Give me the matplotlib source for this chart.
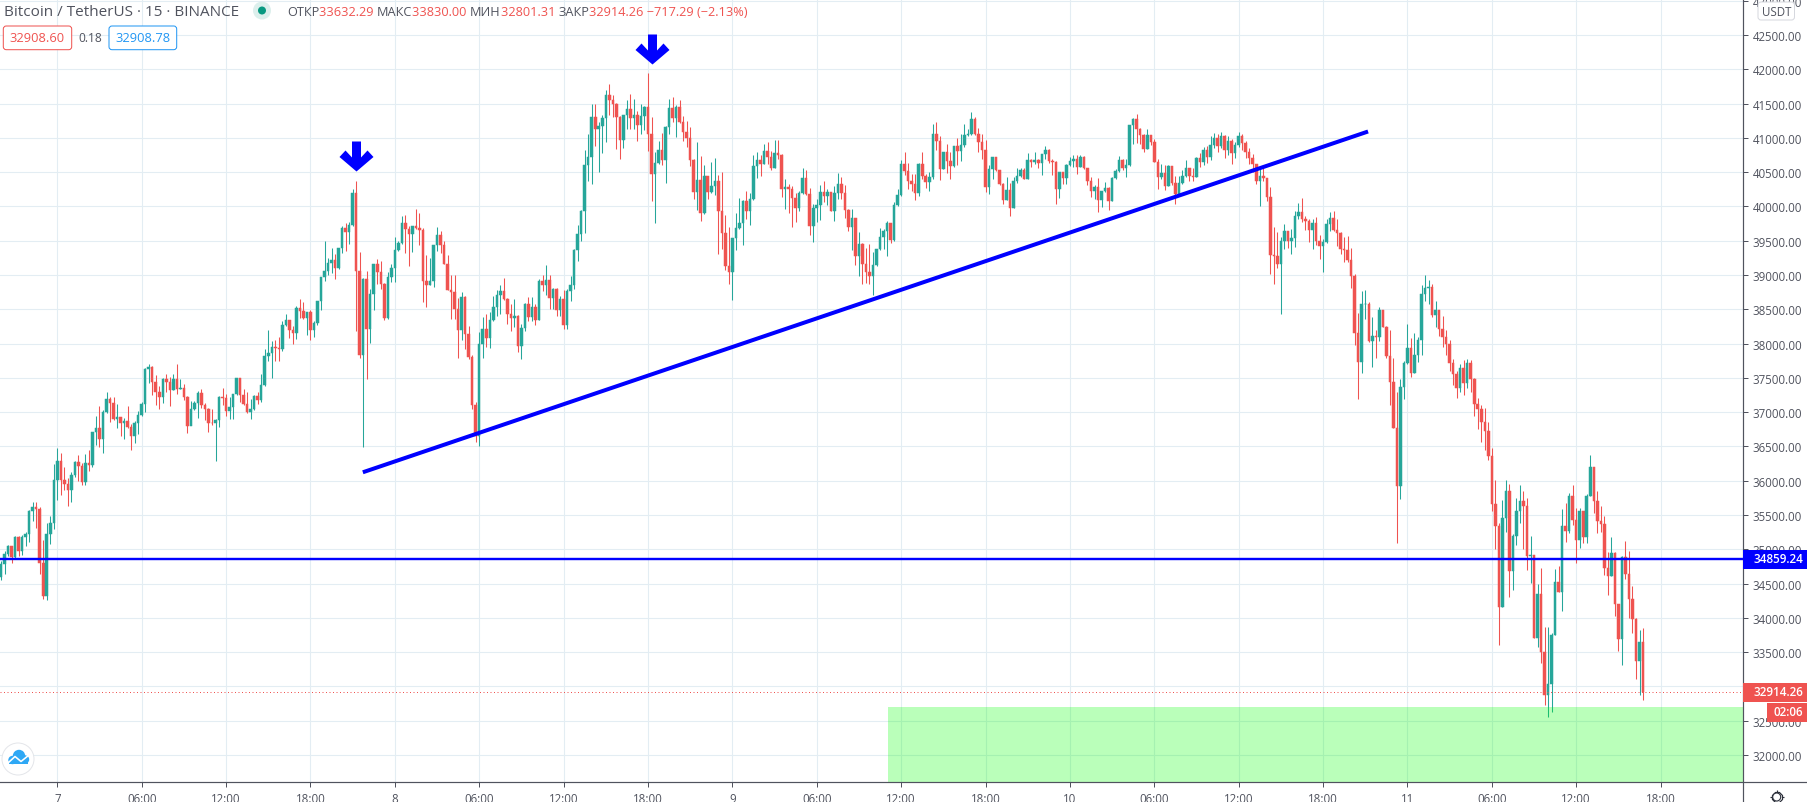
import numpy as np
import matplotlib
matplotlib.use("Agg")
import matplotlib.pyplot as plt
from matplotlib.patches import FancyBboxPatch, Rectangle, Circle, Polygon
from matplotlib.path import Path

plt.rcParams['font.family'] = ['Open Sans', 'DejaVu Sans']

W, H = 1807, 803
PX = 0.72
RED = '#ef5350'
GREEN = '#26a69a'
GRID = '#e3edf3'
AXC = '#50535e'
BLUE = '#0000ff'

# candle data: 15-minute candles, index 0 is the start of day 7
first_index = -16
first_open = 34600
closes = [
 34785,34930,35047,34886,35178,34975,35178,35222,35557,35615,
 35590,34800,34318,35222,35380,36010,36285,36010,35950,35865,
 36080,36270,36215,35980,36255,36230,36705,36763,36608,36997,
 37191,37133,36900,36928,36841,36870,36783,36651,36841,36958,
 37118,37628,37653,37439,37293,37220,37487,37439,37322,37483,
 37337,37351,37220,36797,37045,37133,37278,37104,37045,36841,
 36835,36885,37220,37205,37016,37075,37264,37497,37249,37118,
 37001,37045,37235,37176,37395,37818,37862,37949,37935,37920,
 38270,38343,38197,38153,38518,38474,38372,38459,38197,38299,
 38620,38970,39057,39174,39218,39101,39393,39684,39626,39728,
 40194,39057,37832,38941,38212,38722,39159,39043,38868,38372,
 38970,39101,39363,39465,39757,39670,39597,39713,39684,39655,
 38911,38853,38911,39436,39582,39436,39159,38780,38746,38503,
 38197,38678,38139,37808,37100,36650,37993,38211,38080,38343,
 38532,38707,38766,38649,38430,38372,38401,37968,38226,38576,
 38387,38532,38343,38911,38853,38926,38664,38795,38488,38649,
 38270,38766,38853,39363,39597,39932,40603,40719,41302,41128,
 41171,41288,41623,41550,41492,41302,40967,41332,41419,41288,
 41332,41186,41317,41448,41055,40471,40632,40821,40675,41157,
 41434,41288,41448,41230,41084,40996,40675,40209,40384,39903,
 40442,40209,40296,40369,39932,39611,39130,39043,39538,39684,
 39757,40078,39932,40107,40588,40675,40617,40807,40719,40559,
 40778,40748,40253,40282,40253,40122,39976,40194,40413,40180,
 39713,39976,40019,40209,40151,40209,39932,40194,40326,40194,
 39947,39699,39825,39281,39451,39159,39047,38979,39145,39378,
 39548,39645,39757,39509,40019,40165,40617,40515,40374,40326,
 40194,40617,40447,40360,40428,41055,40953,40544,40792,40661,
 40588,40880,40807,40894,41040,41055,41273,41055,40938,40821,
 40282,40544,40719,40530,40326,40092,40238,39976,40369,40442,
 40530,40399,40676,40646,40676,40632,40763,40821,40661,40646,
 40253,40500,40413,40603,40661,40690,40573,40719,40559,40369,
 40224,40282,40092,40224,40267,40078,40413,40515,40676,40559,
 40603,41186,41273,41127,41040,40836,41040,40933,40646,40428,
 40486,40296,40588,40340,40180,40340,40442,40559,40442,40430,
 40705,40650,40830,40720,40900,41000,40880,41020,40830,40950,
 40780,40900,41030,40920,40800,40700,40620,40374,40437,40413,
 40136,39290,39276,39159,39495,39640,39495,39538,39859,39917,
 39815,39786,39655,39757,39495,39422,39480,39742,39830,39655,
 39611,39378,39363,39218,38984,38153,37730,38576,38580,38037,
 38109,38095,38488,38241,37818,37439,36768,35923,37366,37716,
 37935,37570,37832,38051,38722,38809,38824,38416,38489,38210,
 38100,37990,37720,37560,37350,37650,37420,37710,37480,37120,
 37040,36860,36720,36355,35655,35334,34153,35451,35844,34678,
 35188,35553,35699,35626,34897,34911,33701,34343,33497,32870,
 33031,33745,34518,34372,35334,35261,35772,35422,35130,35553,
 35174,35772,36194,35699,35407,35363,34722,34605,34940,34197,
 33687,34882,34634,34270,33978,33366,33643,32914.26,
]
highs = [
 34833,34970,35060,35050,35200,35190,35207,35250,35570,35690,
 35690,35615,35135,35380,35485,36240,36475,36400,36200,36040,
 36125,36285,36375,36255,36390,36445,36715,36948,37094,37035,
 37293,37225,37225,37118,36928,36914,37089,36826,36870,37016,
 37147,37643,37701,37677,37541,37380,37497,37555,37512,37555,
 37701,37483,37410,37235,37162,37162,37308,37337,37133,37060,
 37045,36900,37235,37351,37264,37215,37264,37497,37497,37337,
 37293,37190,37249,37293,37555,37920,38197,38037,38051,38095,
 38328,38430,38343,38255,38547,38649,38605,38459,38488,38328,
 38620,38970,39495,39247,39393,39305,39393,39713,39757,39772,
 40253,40369,39334,38955,39057,38795,39159,39232,39203,38882,
 39043,39160,39553,39495,39859,39874,39713,39713,39961,39903,
 39684,39290,39247,39436,39699,39640,39495,39290,38999,38999,
 38659,38746,38693,38255,37830,37150,38168,38386,38430,38459,
 38693,38780,38853,38955,38664,38576,38649,38416,38284,38591,
 38678,38678,38576,38941,38999,39145,38999,38810,38810,38693,
 38780,38795,38984,39378,39728,39947,40821,41054,41492,41492,
 41230,41332,41696,41784,41623,41507,41317,41332,41550,41638,
 41565,41390,41492,41463,41944,41302,40792,40953,41069,41171,
 41565,41594,41477,41550,41317,41244,41157,40690,40938,40734,
 40603,40442,40646,40705,40457,40500,39874,39699,39538,39903,
 40122,40092,40224,40194,40748,40792,40748,40909,40938,40807,
 40967,40967,40763,40399,40326,40296,40194,40224,40559,40530,
 40267,40034,40107,40311,40369,40253,40209,40296,40486,40428,
 40311,39961,39961,39825,39626,39465,39393,39451,39329,39378,
 39684,39670,39786,39757,40063,40253,40676,40792,40632,40471,
 40471,40632,40792,40471,40496,41200,41229,41025,40792,40909,
 40792,40880,40996,41055,41200,41127,41375,41302,41142,41055,
 40967,40603,40719,40719,40530,40340,40428,40340,40428,40559,
 40559,40559,40778,40690,40792,40690,40763,40880,40836,40690,
 40661,40500,40500,40617,40719,40748,40748,40748,40734,40559,
 40428,40311,40413,40224,40355,40282,40428,40544,40734,40690,
 40690,41186,41288,41346,41142,41055,41127,41040,40982,40690,
 40617,40603,40603,40588,40442,40442,40530,40676,40559,40559,
 40719,40780,40870,40880,41020,41070,41060,41080,41040,41020,
 40990,40940,41080,41060,40950,40850,40760,40620,40540,40560,
 40413,40282,39699,39626,39553,39742,39640,39670,39932,40049,
 40122,39860,39815,39815,39844,39582,39520,39815,39917,39932,
 39815,39626,39553,39567,39392,39013,38445,38766,38780,38605,
 38386,38197,38532,38488,38260,38197,37789,37293,37482,37745,
 38284,38080,38153,38095,38853,38999,38926,38868,38620,38489,
 38400,38200,38050,37780,37600,37700,37760,37780,37760,37500,
 37200,37100,37060,36850,36470,36005,35378,35713,36005,35947,
 35218,35742,35932,35844,35742,35188,34911,34488,34722,33862,
 33862,33774,34707,34751,35582,35670,35815,35932,35597,35597,
 35553,35800,36369,36194,35844,35626,35480,34955,35174,34955,
 34197,34897,35115,34970,34459,33993,33818,33847,
]
lows = [
 34556,34640,34905,34800,34880,34905,34915,35050,35110,35410,
 35310,34640,34275,34260,35075,35295,35715,35790,35860,35630,
 35690,36050,35995,35935,35935,36140,36195,36520,36496,36404,
 36987,36850,36890,36768,36650,36608,36768,36447,36550,36680,
 36943,37001,37424,37249,37103,37045,37133,37293,37089,37322,
 37264,37337,37176,36695,36812,37030,36914,37060,36885,36710,
 36812,36287,36788,37103,36948,36900,36900,37250,37147,37103,
 36987,36900,37030,37118,37147,37380,37745,37497,37745,37745,
 37891,38255,38080,37993,38065,38372,38357,38124,38051,38095,
 38270,38488,38911,38999,39028,38941,39086,39320,39349,39451,
 39713,38182,37789,36491,37483,38007,38488,38868,38795,38343,
 38357,38897,38897,39349,39451,39320,39130,39334,39670,39436,
 38605,38532,38853,38824,39349,39320,39159,38780,38357,38357,
 37789,38051,37920,37774,37050,36560,36510,37789,37945,37935,
 38328,38406,38430,38630,38284,38187,38236,37876,37770,38187,
 38328,38328,38270,38343,38766,38707,38503,38503,38401,38401,
 38211,38211,38620,38795,39203,39495,39611,40369,40326,40880,
 40500,40778,40938,41332,41302,40836,40690,40850,41128,41128,
 41128,40953,41055,41113,40807,40078,39757,40617,40603,40340,
 41055,41230,41011,41215,40953,40865,40588,40107,39947,39786,
 39888,40107,40194,40165,39305,39378,39072,38868,38634,39363,
 39670,39436,39815,39728,40092,40413,40442,40617,40617,40530,
 40559,40690,40136,39961,39903,39699,39772,39932,40180,40165,
 39582,39480,39772,39801,40063,40019,39932,39786,40107,40107,
 39830,39640,39368,39145,38989,38868,38882,38868,38707,39125,
 39363,39378,39281,39465,39499,40010,40155,40457,40253,40224,
 40097,40155,40399,40267,40224,40399,40816,40384,40544,40486,
 40399,40573,40603,40661,40865,41030,41040,41040,40787,40690,
 40209,40180,40399,40515,40311,40034,40092,39859,39976,40340,
 40428,40399,40399,40573,40617,40559,40457,40690,40632,40457,
 40034,40117,40326,40326,40588,40573,40471,40573,40544,40311,
 40136,40107,39917,39990,40209,39947,40078,40399,40500,40530,
 40428,40588,40909,40923,40909,40792,40836,40900,40646,40253,
 40399,40238,40296,40311,40034,40180,40326,40428,40369,40369,
 40428,40580,40600,40640,40680,40850,40800,40850,40700,40750,
 40620,40700,40860,40820,40700,40620,40500,40320,40000,40374,
 40078,39013,38868,39101,38430,39378,39393,39305,39407,39815,
 39772,39655,39480,39378,39436,39232,39043,39470,39640,39640,
 39422,39305,39188,39188,38809,37978,37191,37570,38357,38022,
 37657,37790,38037,38241,37790,37103,36768,35091,35733,37191,
 37700,37512,37570,37730,37832,38620,38576,38386,38240,38110,
 37950,37840,37600,37400,37200,37300,37250,37350,37300,36950,
 36750,36560,36450,36296,35553,34999,33599,34153,35247,34299,
 34401,35057,35378,34999,34693,34503,33701,33570,33337,32724,
 32555,32632,33745,34372,34095,35101,35232,35349,34795,35013,
 35086,35086,35772,35524,35232,35247,34620,34328,34605,34022,
 33512,33308,34561,33993,33774,33103,32870,32797,
]

# time axis
tick_positions = [0, 24, 48, 72, 96, 120, 144, 168, 192, 216, 240, 264, 288,
                  312, 336, 360, 384, 408, 432, 456]
tick_labels = ['7', '06:00', '12:00', '18:00', '8', '06:00', '12:00', '18:00',
               '9', '06:00', '12:00', '18:00', '10', '06:00', '12:00', '18:00',
               '11', '06:00', '12:00', '18:00']
price_ticks = [32000 + 500 * k for k in range(23)]

# drawings on the chart
support_level = 34859.24
last_price = 32914.26
trend_times = [86.9, 372.8]
trend_prices = [36123, 41093]
arrow_times = [84.95, 169.05]
arrow_prices = [40740, 42290]
zone_start = 236.4
zone_top = 32704

# ohlc pieces for the header
ohlc_parts = [('ОТКР', AXC), ('33632.29 ', RED), ('МАКС', AXC), ('33830.00 ', RED),
              ('МИН', AXC), ('32801.31 ', RED), ('ЗАКР', AXC),
              ('32914.26 −717.29 (−2.13%)', RED)]

fig = plt.figure(figsize=(W / 100, H / 100), dpi=100, facecolor='white')
ax = fig.add_axes([0, (H - 783.3) / H, 1743.3 / W, 783.3 / H])
ax.set_xlim(-57.3 / 3.516, (1743.3 - 57.3) / 3.516)
ax.set_ylim(42000 - (783.3 - 70.3) / 0.06857, 42000 + 70.3 / 0.06857)

ax.set_axisbelow(True)
ax.grid(True, color=GRID, lw=1.1 * PX)
ax.set_xticks(tick_positions)
ax.set_xticklabels(tick_labels)
ax.set_yticks(price_ticks)
ax.set_yticklabels([f'{p:.2f}' for p in price_ticks])
ax.yaxis.tick_right()
ax.tick_params(axis='y', length=5 * PX, width=1 * PX, color=AXC, labelcolor=AXC,
               labelsize=8.3, pad=3)
ax.tick_params(axis='x', length=5 * PX, width=1 * PX, color=AXC, labelcolor=AXC,
               labelsize=8.3, pad=3.5)
for s in ['left', 'top', 'right', 'bottom']:
    ax.spines[s].set_visible(False)

idx = np.arange(len(closes)) + first_index
c = np.array(closes, float)
o = np.r_[first_open, c[:-1]]
hi = np.array(highs, float)
lo = np.array(lows, float)
colors = np.where(c >= o, GREEN, RED)
ax.vlines(idx, lo, hi, colors=colors, lw=1.05 * PX, zorder=3)
ax.bar(idx, np.abs(c - o), bottom=np.minimum(o, c), width=0.72, color=colors,
       edgecolor=colors, linewidth=0.35, zorder=4)

ax.axhline(last_price, color=RED, lw=1 * PX, ls=(0, (1, 2.5)), zorder=5)
ax.axhline(support_level, color=BLUE, lw=2.4 * PX, zorder=6)
ax.plot(trend_times, trend_prices, color=BLUE, lw=4 * PX, zorder=6, solid_capstyle='butt')

verts = np.array([(-4.5, 15), (4.5, 15), (4.5, -1), (11, 6), (17, -0.5), (0, -15),
                  (-17, -0.5), (-11, 6), (-4.5, -1), (-4.5, 15)], float)
arrow = Path(verts, closed=True)
ax.plot(arrow_times, arrow_prices, ls='none', marker=arrow, ms=34 * PX, mfc=BLUE,
        mec=BLUE, mew=0, zorder=7)

xmax = ax.get_xlim()[1]
ax.add_patch(Rectangle((zone_start, ax.get_ylim()[0]), xmax - zone_start,
                       zone_top - ax.get_ylim()[0], facecolor='#00ff00', alpha=0.27,
                       edgecolor='none', zorder=8))

# interface overlay, in pixels
ui = fig.add_axes([0, 0, 1, 1], facecolor='none')
ui.set_xlim(0, W)
ui.set_ylim(H, 0)
ui.axis('off')
ui.plot([0, W], [783.3, 783.3], color=AXC, lw=1.2 * PX)
ui.plot([1743.3, 1743.3], [0, H], color=AXC, lw=1.2 * PX)

# right-hand price tags
def tag(x0, y0, x1, y1, color, text):
    ui.add_patch(Rectangle((x0, y0), x1 - x0, y1 - y0, facecolor=color, edgecolor='none', zorder=5))
    ui.text(x1 - 4, (y0 + y1) / 2 - 0.5, text, color='white', fontsize=8.4, fontweight='semibold',
            ha='right', va='center', zorder=6)

tag(1743.3, 551, W, 569.7, BLUE, f'{support_level:.2f}')
tag(1743.3, 684, W, 703, RED, f'{last_price:.2f}')
tag(1767, 704, W, 723, RED, '02:06')

# currency box
ui.add_patch(FancyBboxPatch((1759, 4), 34.5, 16, boxstyle='round,pad=1,rounding_size=3',
                            facecolor='white', edgecolor='#d6d8de', lw=1 * PX, zorder=5))
ui.text(1776.2, 12, 'USDT', color=AXC, fontsize=8.3, ha='center', va='center', zorder=6)

# header
ui.text(4, 12, 'Bitcoin / TetherUS · 15 · BINANCE', color=AXC, fontsize=10.95, ha='left', va='center')
ui.add_patch(Circle((262, 11.5), 9, facecolor='#dcefec', edgecolor='none'))
ui.add_patch(Circle((262, 11.5), 4, facecolor='#089981', edgecolor='none'))

fig.canvas.draw()
rend = fig.canvas.get_renderer()
xpos = 287
for s, col in ohlc_parts:
    t = ui.text(xpos, 12, s, color=col, fontsize=9.2, ha='left', va='center')
    t2 = ui.text(0, 0, s.replace(' ', '.'), fontsize=9.2, alpha=0)
    w = t2.get_window_extent(rend).width
    t2.remove()
    xpos += w

# bid / ask boxes
def quote(x0, x1, color, text):
    ui.add_patch(FancyBboxPatch((x0 + 2, 29), x1 - x0 - 4, 19.7, boxstyle='round,pad=2,rounding_size=3',
                                facecolor='white', edgecolor=color, lw=1 * PX))
    ui.text((x0 + x1) / 2, 39, text, color=color, fontsize=9.3, ha='center', va='center')

quote(3.3, 71.7, RED, '32908.60')
ui.text(90, 39, '0.18', color=AXC, fontsize=8.6, ha='center', va='center')
quote(109, 176.7, '#2196f3', '32908.78')

# logo
ui.add_patch(Circle((18, 760), 16, facecolor='white', edgecolor='#e4e6ea', lw=1 * PX))
ui.add_patch(Circle((19, 757), 6.2, facecolor='#2ea8f5', edgecolor='none'))
ui.add_patch(Circle((12.5, 761), 4.2, facecolor='#2ea8f5', edgecolor='none'))
ui.add_patch(Circle((25, 760.5), 4.2, facecolor='#2ea8f5', edgecolor='none'))
ui.add_patch(Rectangle((9, 760), 19, 5.2, facecolor='#2ea8f5', edgecolor='none'))
ui.plot([8, 15, 21, 29], [764, 757.5, 762.5, 756], color='white', lw=1.6 * PX)

# settings gear
ui.plot([1776.7], [798], marker='8', ms=9 * PX * 1.2, mfc='white', mec='#2a2e39', mew=1.2 * PX)
ui.plot([1776.7], [798], marker='+', ms=14 * PX, mec='#2a2e39', mew=1.2 * PX, zorder=1)
ui.add_patch(Circle((1776.7, 798), 4, facecolor='white', edgecolor='#2a2e39', lw=1.1 * PX, zorder=3))

fig.savefig('out.png', dpi=100, facecolor='white')
